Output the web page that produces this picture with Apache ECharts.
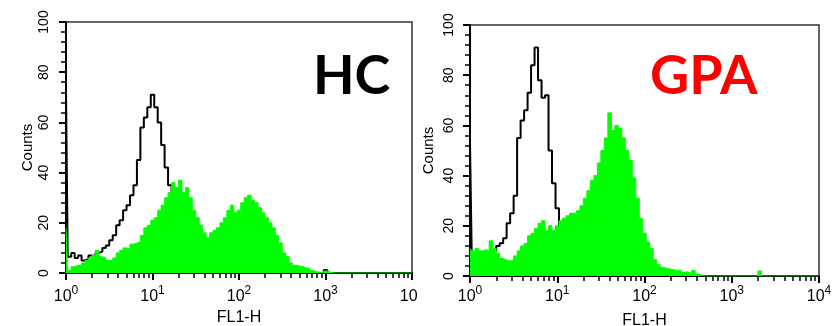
<!DOCTYPE html>
<html><head><meta charset="utf-8">
<script src="https://cdn.jsdelivr.net/npm/echarts@6/dist/echarts.min.js"></script>
<style>html,body{margin:0;padding:0;background:#fff}#c{width:837px;height:326px}</style>
</head><body><div id="c"></div>
<script>
// channel grid: 101 channels, 0.04 decades apart (10^0 .. 10^4)
const channelStep = 0.04;
const channelCount = 101;
const panelTitles = ['HC', 'GPA'];
const xAxisName = 'FL1-H';
const yAxisName = 'Counts';

// HC panel
const hcControl = [72,6.5,8,6,7,5,5.5,7,6.5,8,8.5,10,11,13,15,19,21,25,27,31,35,45,58,62,66,71,66,60,51,42,35,27,20,15,10,7,4,2,1,
  0,0,0,0,0,0,0,0,0,0,0,0,0,0,0,0,0,0,0,0,0,0,0,0,0,0,0,0,0,0,0,0,0,0,0,0,
  1.2,
  0,0,0,0,0,0,0,0,0,0,0,0,0,0,0,0,0,0,0,0,0,0,0,0,0];
const hcStained = [18,1,2.5,3,3.2,4,5,6,7,9,6.5,6,5,5,6,8,9,10,9.5,11.5,12,12.5,15,18,19,21,22,25,27,30,32,36,34,37,32,34,30,25,22,19,16,14,16,17,18,20,22,25,27,24,25,28,30,31,29,28,26,24,22,20,18,15,12,8,6.5,4,3,2.8,2.5,2,1.8,1,0.5,0.3,0,0.8,0.3,
  0,0,0,0,0,0,0,0,0,0,0,0,0,0,0,0,0,0,0,0,0,0,0,0];

// GPA panel
const gpaControl = [53,8,8.5,8,9,8,9,10,12,13,15,21,25,32,55,62,66,73,84,91,78,71,72,50,37,27,18,10,5,2,1,
  0,0,0,0,0,0,0,0,0,0,0,0,0,0,0,0,0,0,0,0,0,0,0,0,0,0,0,0,0,0,0,0,0,0,0,0,0,0,0,0,
  0,0,0,0,0,0,0,0,0,0,0,0,0,0,0,0,0,0,0,0,0,0,0,0,0,0,0,0,0,0,0,0,0,0,0,0,0,0,0,0].slice(0, 101);
const gpaStained = [11,10,11,10,10.5,10,14,11,9,7,6.4,6,6.5,8,10,12,13,16,17,19,21,22,18,20,18,20,22,23,24,25,25,26,28,31,34,38,40,45,50,55,65,58,60,59,55,50,46,39,31,23,17,13.5,11,6.5,4.5,3.5,3,2.8,2.4,2.2,2.4,1.5,1.7,1,2.2,0.8,0.4,
  0,0,0,0,0,0,0,0,0,0,0,0,0,0,0,0,
  2,
  0,0,0,0,0,0,0,0,0,0,0,0,0,0,0,0,0];

// channel centres on the log FL1-H scale
const channels = Array.from({length: channelCount}, (_, i) => Math.pow(10, i * channelStep));

const chart = echarts.init(document.getElementById('c'));
const FONT = 'Liberation Sans, Arial, sans-serif';

const panels = [
  {grid: {left: 66, top: 22, width: 346, height: 251}, labelMargin: 12, nameGap: 35, yMargin: 15, yNameGap: 31,
   control: hcControl, stained: hcStained},
  {grid: {left: 470, top: 25, width: 349, height: 251}, labelMargin: 9, nameGap: 37, yMargin: 14, yNameGap: 34,
   control: gpaControl, stained: gpaStained}
];

const grids = [], xAxes = [], yAxes = [], series = [];
panels.forEach((p, g) => {
  grids.push(Object.assign({outerBoundsMode: 'none', show: true, borderColor: '#333', borderWidth: 1.5}, p.grid));
  xAxes.push({
    type: 'log', logBase: 10, gridIndex: g, min: 1, max: 10000,
    axisLine: {show: true, lineStyle: {color: '#000', width: 2}},
    axisTick: {show: true, length: 7, lineStyle: {color: '#000', width: 2}},
    minorTick: {show: true, splitNumber: 9, length: 5, lineStyle: {color: '#000', width: 1.5}},
    splitLine: {show: false}, minorSplitLine: {show: false},
    axisLabel: {
      margin: p.labelMargin,
      formatter: v => '{b|10}{s|' + Math.round(Math.log10(v)) + '}',
      rich: {
        b: {fontSize: 16, fontFamily: FONT, color: '#000', lineHeight: 20, verticalAlign: 'bottom'},
        s: {fontSize: 12, fontFamily: FONT, color: '#000', lineHeight: 12, verticalAlign: 'top'}
      }
    },
    name: xAxisName, nameLocation: 'middle', nameGap: p.nameGap,
    nameTextStyle: {fontSize: 16, fontFamily: FONT, color: '#000', verticalAlign: 'top'}
  });
  yAxes.push({
    type: 'value', gridIndex: g, min: 0, max: 100, interval: 20,
    axisLine: {show: true, lineStyle: {color: '#000', width: 2}},
    axisTick: {show: true, length: 7, lineStyle: {color: '#000', width: 2}},
    minorTick: {show: true, splitNumber: 5, length: 5, lineStyle: {color: '#000', width: 1.5}},
    splitLine: {show: false}, minorSplitLine: {show: false},
    axisLabel: {rotate: 90, margin: p.yMargin, fontSize: 14, fontFamily: FONT, color: '#000'},
    name: yAxisName, nameLocation: 'middle', nameGap: p.yNameGap, nameRotate: 90,
    nameTextStyle: {fontSize: 15, fontFamily: FONT, color: '#000'}
  });
  series.push({
    type: 'line', xAxisIndex: g, yAxisIndex: g, step: 'middle', symbol: 'none', z: 2,
    lineStyle: {color: '#000', width: 2},
    data: channels.map((x, i) => [x, p.control[i]])
  });
  series.push({
    type: 'line', xAxisIndex: g, yAxisIndex: g, step: 'middle', symbol: 'none', z: 3,
    lineStyle: {color: '#00ff00', width: 1},
    areaStyle: {color: '#00ff00', opacity: 1},
    data: channels.map((x, i) => [x, p.stained[i]])
  });
});

chart.setOption({
  animation: false,
  grid: grids, xAxis: xAxes, yAxis: yAxes, series: series,
  graphic: [
    {type: 'rect', left: 417, top: 280, shape: {width: 9, height: 30}, style: {fill: '#fff'}, z: 100},
    {type: 'text', x: 313, y: 50, z: 100,
     style: {text: panelTitles[0], font: 'bold 54px Lato, "Open Sans", sans-serif', fill: '#000', textAlign: 'left', textVerticalAlign: 'top'}},
    {type: 'text', x: 650, y: 50, z: 100,
     style: {text: panelTitles[1], font: 'bold 54px Lato, "Open Sans", sans-serif', fill: '#ff0000', textAlign: 'left', textVerticalAlign: 'top'}}
  ]
});
</script></body></html>
